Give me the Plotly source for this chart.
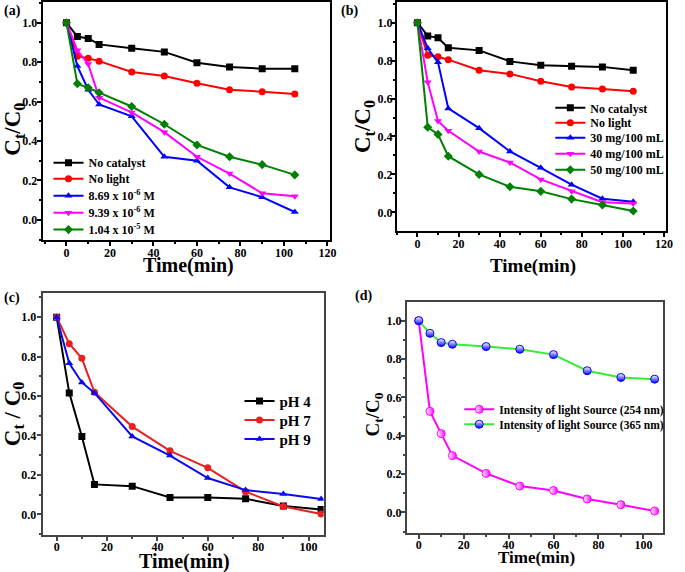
import plotly.graph_objects as go

time = [0, 5, 10, 15, 30, 45, 60, 75, 90, 105]

# (a)
a_no_catalyst = [1.0, 0.93, 0.92, 0.89, 0.87, 0.852, 0.797, 0.775, 0.767, 0.767]
a_no_light = [1.0, 0.83, 0.82, 0.805, 0.75, 0.73, 0.693, 0.66, 0.65, 0.638]
a_869 = [1.0, 0.78, 0.66, 0.585, 0.525, 0.32, 0.30, 0.165, 0.115, 0.04]
a_939 = [1.0, 0.86, 0.79, 0.62, 0.545, 0.445, 0.32, 0.235, 0.135, 0.12]
a_104 = [1.0, 0.69, 0.67, 0.645, 0.575, 0.485, 0.38, 0.32, 0.28, 0.228]
a_names = ["No catalyst", "No light", "8.69 x 10<sup>-6</sup> M",
           "9.39 x 10<sup>-6</sup> M", "1.04 x 10<sup>-5</sup> M"]

# (b)
b_no_catalyst = [1.0, 0.93, 0.92, 0.868, 0.854, 0.796, 0.775, 0.77, 0.767, 0.749]
b_no_light = [1.0, 0.828, 0.82, 0.805, 0.749, 0.73, 0.691, 0.661, 0.651, 0.639]
b_30 = [1.0, 0.865, 0.791, 0.548, 0.444, 0.321, 0.235, 0.146, 0.072, 0.056]
b_40 = [1.0, 0.686, 0.482, 0.43, 0.321, 0.263, 0.174, 0.112, 0.054, 0.047]
b_50 = [1.0, 0.449, 0.411, 0.296, 0.2, 0.135, 0.111, 0.07, 0.039, 0.007]
b_names = ["No catalyst", "No light", "30 mg/100 mL", "40 mg/100 mL", "50 mg/100 mL"]

# (c)
c_ph4 = [1.0, 0.616, 0.395, 0.152, 0.143, 0.086, 0.086, 0.079, 0.042, 0.025]
c_ph7 = [1.0, 0.865, 0.791, 0.619, 0.445, 0.322, 0.236, 0.115, 0.04, 0.002]
c_ph9 = [1.0, 0.766, 0.669, 0.616, 0.395, 0.298, 0.184, 0.123, 0.103, 0.078]
c_names = ["pH 4", "pH 7", "pH 9"]

# (d)
d_254 = [1.0, 0.527, 0.411, 0.296, 0.203, 0.137, 0.114, 0.07, 0.04, 0.007]
d_365 = [1.0, 0.934, 0.886, 0.877, 0.865, 0.851, 0.823, 0.739, 0.704, 0.695]
d_names = ["Intensity of light Source (254 nm)", "Intensity of light Source (365 nm)"]

FONT = "Liberation Serif"
W, H = 685, 572

fig = go.Figure()
legend_layouts = {}
_leg_count = [0]


def dom_x(x0, x1):
    return [x0 / W, x1 / W]


def dom_y(top, bottom):
    return [1 - bottom / H, 1 - top / H]


def new_legend(px, py, size):
    _leg_count[0] += 1
    key = "legend" if _leg_count[0] == 1 else f"legend{_leg_count[0]}"
    legend_layouts[key] = dict(
        x=px / W, y=1 - py / H, xanchor="left", yanchor="middle",
        bgcolor="rgba(0,0,0,0)", itemwidth=30, borderwidth=0,
        font=dict(family=FONT, size=size, color="black", weight="bold"))
    return key


def add_series(y, name, color, symbol, xa, ya, leg, size=7, line_color=None, grad=None):
    marker = dict(symbol=symbol, size=size, color=color, line=dict(width=0))
    if grad is not None:
        marker = dict(symbol=symbol, size=size, color=grad[0],
                      gradient=dict(type=grad[1], color=grad[2]),
                      line=dict(width=1, color=grad[3]))
    fig.add_trace(go.Scatter(
        x=time, y=y, name=name, mode="lines+markers",
        line=dict(color=line_color or color, width=2),
        marker=marker, xaxis=xa, yaxis=ya, legend=leg))


BLACK, RED, BLUE, MAG, GREEN = "#000000", "#ff0000", "#0000ff", "#ff00ff", "#008000"
SYMS5 = ["square", "circle", "triangle-up", "triangle-down", "diamond"]

# (a)
for y, n, c, s, ly in zip([a_no_catalyst, a_no_light, a_869, a_939, a_104], a_names,
                          [BLACK, RED, BLUE, MAG, GREEN], SYMS5,
                          [162, 178, 195, 212, 229]):
    add_series(y, n, c, s, "x", "y", new_legend(49, ly, 12))
# (b)
for y, n, c, s, ly in zip([b_no_catalyst, b_no_light, b_30, b_40, b_50], b_names,
                          [BLACK, RED, BLUE, MAG, GREEN], SYMS5,
                          [107, 122, 137, 153, 169]):
    add_series(y, n, c, s, "x2", "y2", new_legend(556, ly, 12))
# (c)
for y, n, c, s, ly in zip([c_ph4, c_ph7, c_ph9], c_names,
                          [BLACK, "#e82020", "#0a0aee"],
                          ["square", "circle", "triangle-up"],
                          [401, 420, 439]):
    add_series(y, n, c, s, "x3", "y3", new_legend(242, ly, 15))
# (d)
add_series(d_254, d_names[0], MAG, "circle", "x4", "y4", new_legend(464, 409, 11.5), size=8,
           grad=("#ffffff", "horizontal", MAG, MAG))
add_series(d_365, d_names[1], "#33ee33", "circle", "x4", "y4", new_legend(464, 424, 11.5), size=8,
           grad=("#ffffff", "vertical", BLUE, BLUE))

tickfont = dict(family=FONT, size=12, color="black", weight="bold")


def axis(domain, rng, dtick, minor_dtick, anchor, lc="black", standoff=-3):
    d = dict(domain=domain, range=rng, anchor=anchor, dtick=dtick, tick0=0,
             showgrid=False, zeroline=False, showline=True, linecolor=lc, linewidth=2,
             mirror=True, ticks="outside", ticklen=4, tickwidth=1.5, tickcolor=lc,
             tickfont=tickfont, ticklabelstandoff=standoff,
             minor=dict(dtick=minor_dtick, tick0=0, ticks="outside", ticklen=2,
                        tickwidth=1.5, tickcolor=lc, showgrid=False))
    if dtick == 0.2:
        d["tickformat"] = ".1f"
    return d


fig.update_layout(
    width=W, height=H, margin=dict(l=0, r=0, t=0, b=0),
    paper_bgcolor="white", plot_bgcolor="white",
    font=dict(family=FONT, color="black"),
    xaxis=axis(dom_x(43, 333), [-11, 121], 20, 10, "y", standoff=-3),
    yaxis=axis(dom_y(1, 239), [-0.1, 1.105], 0.2, 0.1, "x", standoff=-3),
    xaxis2=axis(dom_x(401, 673), [-10, 121], 20, 10, "y2", standoff=-3),
    yaxis2=axis(dom_y(1, 230), [-0.096, 1.109], 0.2, 0.1, "x2", standoff=-4),
    xaxis3=axis(dom_x(43, 327), [-5.6, 106], 20, 10, "y3", lc="#444444", standoff=-4),
    yaxis3=axis(dom_y(293, 535), [-0.105, 1.12], 0.2, 0.1, "x3", lc="#444444", standoff=-2),
    xaxis4=axis(dom_x(411, 670), [-5.3, 108.8], 20, 10, "y4", lc="#444444", standoff=-4),
    yaxis4=axis(dom_y(302, 533), [-0.108, 1.095], 0.2, 0.1, "x4", lc="#444444", standoff=-3),
    showlegend=True,
    **legend_layouts,
)

YT = "C<sub>t</sub>/C<sub>0</sub>"
titles = [
    ("Time(min)", 190, 265, 20, 0), ("Time(min)", 539, 265, 19, 0),
    ("Time(min)", 186, 561, 20, 0), ("Time(min)", 542, 557, 17, 0),
    (YT, 14, 128, 23, -90), (YT, 368, 126, 23, -90),
    ("C<sub>t</sub> / C<sub>0</sub>", 14, 413, 23, -90), (YT, 378, 414, 19, -90),
]
for t, x, y, s, ang in titles:
    fig.add_annotation(text=t, x=x / W, y=1 - y / H, xref="paper", yref="paper",
                       xanchor="center", yanchor="middle", showarrow=False, textangle=ang,
                       font=dict(family=FONT, size=s, color="black", weight="bold"))

labels = [("(a)", 2, 10), ("(b)", 343, 10), ("(c)", 2, 298), ("(d)", 357, 296)]
for t, x, y in labels:
    fig.add_annotation(text=t, x=x / W, y=1 - y / H, xref="paper", yref="paper",
                       xanchor="left", yanchor="middle", showarrow=False,
                       font=dict(family=FONT, size=14, color="black", weight="bold"))

fig.write_html("out.html", config={"displayModeBar": False},
               post_script="document.body.style.margin='0';document.body.style.padding='0';")
